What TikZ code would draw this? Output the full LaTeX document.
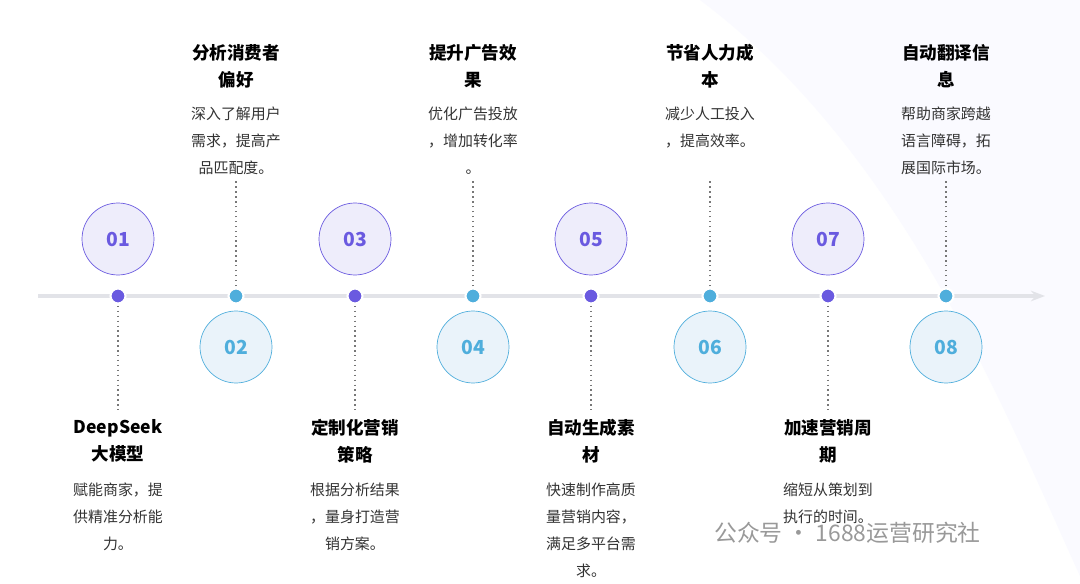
\documentclass[tikz,border=0pt]{standalone}
\usepackage{fontspec}
\setmainfont{Noto Sans CJK SC}
\usetikzlibrary{arrows.meta, positioning}
\definecolor{purp}{HTML}{6A5AE0}
\definecolor{purpfill}{HTML}{EEEDFB}
\definecolor{cyanb}{HTML}{4FAEDC}
\definecolor{cyanfill}{HTML}{EAF3FA}
\definecolor{axis}{HTML}{E2E3E8}
\definecolor{txt}{HTML}{333333}
\definecolor{dots}{HTML}{777777}

\begin{document}
\begin{tikzpicture}[x=0.02cm, y=-0.02cm,
        numup/.style={draw=purp, fill=purpfill, circle, minimum size=1.44cm, text=purp, font=\fontsize{11}{11}\selectfont\bfseries},
        numdown/.style={draw=cyanb, fill=cyanfill, circle, minimum size=1.44cm, text=cyanb, font=\fontsize{11}{11}\selectfont\bfseries},
        dot/.style={circle, draw=white, line width=1.2pt, inner sep=0pt, minimum size=0.3cm},
        title/.style={align=center, text=black, font=\fontsize{10}{15.3}\selectfont\bfseries},
        desc/.style={align=center, text=txt, font=\fontsize{8.5}{15.3}\selectfont},
        link/.style={dotted, dots, line width=0.8pt}
    ]

        % Background
        \fill[white] (0,0) rectangle (1080,576);
        \fill[blue!2] (700,0) .. controls (900,150) and (1000,400) .. (1080,576) -- (1080,0) -- cycle;

        % Axis
        \coordinate (start) at (38,296);
        \coordinate (end) at (1045,296);
        \draw[axis, line width=2.2pt, -{Stealth[length=8pt]}] (start) -- (end);

        % Odd steps: circle above, text below
        \foreach \i/\x/\t/\d in {01/118/{DeepSeek\\大模型}/{赋能商家，提\\供精准分析能\\力。},
                                 03/355/{定制化营销\\策略}/{根据分析结果\\，量身打造营\\销方案。},
                                 05/591/{自动生成素\\材}/{快速制作高质\\量营销内容，\\满足多平台需\\求。},
                                 07/828/{加速营销周\\期}/{缩短从策划到\\执行的时间。}} {
            \node[numup] (n\i) at (\x,239) {\i};
            \coordinate (e\i) at (\x,410);
            \draw[link] (\x,296) -- (e\i);
            \node[dot, fill=purp] (d\i) at (\x,296) {};
            \node[title, anchor=north] (t\i) at (\x,413) {\t};
            \node[desc, anchor=north] (s\i) at (\x,477) {\d};
        }

        % Even steps: circle below, text above
        \foreach \i/\x/\t/\d in {02/236/{分析消费者\\偏好}/{深入了解用户\\需求，提高产\\品匹配度。},
                                 04/473/{提升广告效\\果}/{优化广告投放\\，增加转化率\\。},
                                 06/710/{节省人力成\\本}/{减少人工投入\\，提高效率。},
                                 08/946/{自动翻译信\\息}/{帮助商家跨越\\语言障碍，拓\\展国际市场。}} {
            \node[numdown] (n\i) at (\x,347) {\i};
            \coordinate (e\i) at (\x,180);
            \draw[link] (\x,296) -- (e\i);
            \node[dot, fill=cyanb] (d\i) at (\x,296) {};
            \node[title, anchor=north] (t\i) at (\x,38) {\t};
            \node[desc, anchor=north] (s\i) at (\x,101) {\d};
        }

        % Watermark
        \node[text=gray!80, font=\fontsize{13}{13}\selectfont, anchor=west] (wm) at (708,533) {公众号 · 1688运营研究社};

    \end{tikzpicture}
\end{document}
